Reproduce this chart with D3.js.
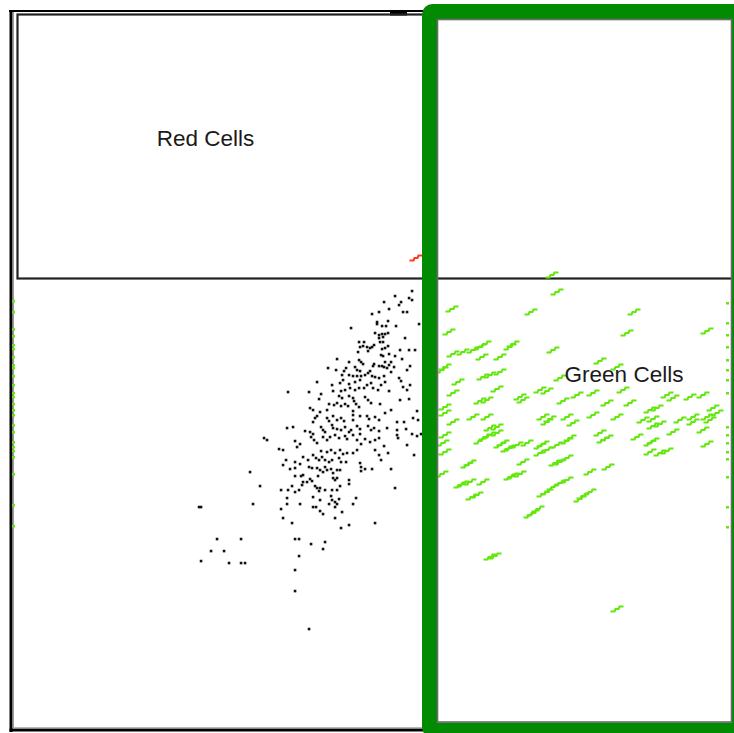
<!DOCTYPE html>
<html>
<head>
<meta charset="utf-8">
<script src="https://cdn.jsdelivr.net/npm/d3@7"></script>
<style>
  html, body { margin: 0; padding: 0; background: #fff; overflow: hidden; }
  svg { display: block; }
</style>
</head>
<body>
<svg id="chart" width="734" height="733"></svg>
<script>
// Event channels (0–720 on both axes): [x channel, y channel]
const blackEvents = [
  [400,438],[383,433],[372,427],[389,427],[387,424],[397,431],[400,429],[377,420],[367,417],[360,415],
  [391,417],[395,417],[376,408],[365,407],[365,405],[370,403],[374,403],[384,403],[407,405],[339,401],
  [363,396],[367,394],[370,395],[373,395],[376,396],[367,391],[371,392],[393,391],[347,387],[352,387],
  [368,387],[371,387],[362,384],[360,382],[351,383],[348,382],[355,382],[376,383],[346,377],[356,378],
  [358,381],[370,380],[373,381],[388,379],[397,379],[403,379],[377,375],[369,374],[371,373],[383,373],
  [390,370],[325,370],[337,367],[347,369],[349,367],[351,365],[362,365],[361,363],[373,367],[379,367],
  [377,364],[367,363],[370,363],[372,362],[375,361],[382,362],[398,363],[316,361],[324,359],[334,361],
  [332,358],[343,362],[345,359],[348,358],[358,358],[379,357],[395,359],[330,354],[337,354],[341,353],
  [345,353],[349,353],[353,354],[356,356],[360,353],[363,352],[367,351],[372,353],[387,351],
  [305,347],[276,337],[297,337],[309,335],[307,330],[320,344],[321,338],[328,346],[331,349],[337,345],
  [343,347],[348,349],[329,338],[333,339],[338,341],[343,339],[347,341],[352,341],[355,344],[359,346],
  [361,341],[366,339],[369,344],[373,347],[377,338],[389,348],[391,342],[395,339],[398,344],[327,333],
  [330,331],[337,333],[341,331],[342,328],[317,325],[322,324],[325,326],[329,323],[333,325],[336,323],
  [344,325],[347,322],[353,332],[356,329],[359,326],[368,325],[379,319],[388,329],[397,330],[405,318],
  [298,321],[301,319],[308,317],[315,319],[305,313],[303,311],[301,307],[315,311],[317,308],[321,313],
  [325,309],[329,311],[332,308],[341,318],[341,314],[341,309],[348,313],[355,313],[357,310],[363,312],
  [367,309],[373,316],[385,307],[392,307],[401,311],[406,309],[275,301],[281,302],[293,298],[298,297],
  [301,295],[309,302],[311,299],[313,297],[320,304],[321,301],[325,300],[329,299],[333,302],[337,297],
  [339,299],[345,303],[348,300],[348,295],[356,303],[359,299],[362,301],[367,298],[375,301],[385,299],
  [385,294],[394,300],[400,295],[405,293],[409,295],[252,291],[255,289],[283,288],[288,285],[285,282],
  [299,292],[302,289],[305,286],[311,292],[315,289],[318,292],[323,294],[327,291],[333,293],[335,290],
  [341,294],[345,289],[349,285],[353,290],[358,287],[363,289],[367,291],[372,283],[386,291],[395,284],
  [267,280],[271,279],[291,272],[296,269],[274,269],[283,267],[271,264],[278,260],[283,261],[301,274],
  [304,271],[307,269],[310,272],[313,269],[317,267],[320,269],[309,278],[315,277],[319,279],[323,276],
  [327,271],[329,267],[334,267],[328,279],[331,275],[335,276],[341,276],[345,279],[348,266],[349,262],
  [349,258],[353,260],[360,260],[363,279],[367,274],[369,269],[376,276],[379,260],[402,274],[297,262],
  [300,261],[305,261],[308,259],[311,257],[313,262],[315,259],[319,260],[321,256],[325,259],[328,259],
  [283,253],[289,253],[298,250],[300,248],[295,247],[306,253],[321,251],[323,249],[325,251],[337,249],
  [337,245],[248,243],[280,243],[290,244],[291,247],[303,243],[305,241],[308,241],[307,238],[313,239],
  [320,239],[325,239],[328,243],[269,239],[276,239],[283,237],[287,239],[275,231],[301,232],[308,229],
  [319,233],[320,229],[323,227],[327,230],[325,225],[323,222],[317,225],[344,231],[383,241],[341,225],
  [269,220],[275,225],[288,225],[301,222],[304,222],[308,218],[311,215],[330,217],[323,211],[271,211],
  [280,206],[329,201],[337,204],[363,206],[238,257],[241,225],[187,222],[189,222],[205,190],[229,190],
  [283,190],[287,190],[199,178],[212,178],[189,168],[217,166],[229,166],[233,166],[299,185],[313,187],
  [311,180],[287,173],[283,159],[283,138],[297,100],[288,265],[291,254]
];

const greenEvents = [
  [545,437],[440,420],[519,417],[622,417],[437,397],[615,396],[695,398],[473,385],[468,382],[461,379],
  [451,377],[441,375],[501,385],[498,382],[541,379],[470,372],[488,372],[433,362],[430,359],[588,368],
  [605,362],[478,354],[488,357],[471,352],[548,351],[446,347],[485,340],[441,336],[528,339],[535,338],
  [581,336],[565,334],[611,339],[508,332],[475,329],[468,328],[551,328],[595,326],[618,326],[655,334],
  [661,331],[678,332],[691,334],[433,322],[433,316],[511,329],[638,319],[645,321],[701,321],[705,316],
  [461,312],[475,312],[441,307],[531,312],[538,310],[555,312],[581,314],[605,312],[485,302],[631,309],
  [641,310],[668,309],[681,312],[695,312],[535,307],[561,306],[648,305],[641,303],[681,307],[698,309],
  [478,301],[485,296],[478,294],[473,292],[433,294],[468,288],[431,286],[491,286],[488,284],[505,284],
  [515,286],[498,281],[495,280],[531,285],[528,283],[545,284],[535,279],[528,276],[558,291],[555,288],
  [588,296],[595,291],[591,289],[625,292],[638,286],[641,288],[661,297],[691,299],[695,285],[433,277],
  [638,277],[655,278],[648,276],[458,266],[455,264],[511,267],[548,267],[555,271],[543,266],[430,255],
  [578,257],[596,262],[501,253],[498,252],[508,255],[458,247],[451,245],[448,244],[471,247],[555,249],
  [548,246],[541,242],[535,237],[531,235],[578,237],[571,233],[568,230],[465,234],[460,232],[526,220],
  [521,216],[518,214],[483,173],[478,172],[605,120],[540,454]
];

const redEvents = [[404, 471]];

// green events piled up on the axis limits (y channel only)
const greenAtMinX = [428,417,400,393,384,380,372,364,361,353,344,336,332,325,319,314,304,297,287,282,278,272,255,224,203];
const greenAtMaxX = [426,406,394,382,369,359,349,336,302,294,286,277,270,252,222,202];

// gate limits in channel units
const redGate = { x0: 5.5, x1: 740, y0: 450.5, y1: 714.5 };
const greenGate = { x0: 425.5, x1: 719.5, y0: 7, y1: 709.5 };

const gateLabels = [
  { text: "Red Cells", x: 193.5, y: 583 },
  { text: "Green Cells", x: 612, y: 347 }
];

const svg = d3.select("#chart");
const x = d3.scaleLinear().domain([0, 720]).range([12, 732]);
const y = d3.scaleLinear().domain([0, 720]).range([729, 9]);

svg.append("rect").attr("width", 734).attr("height", 733).attr("fill", "#fff");

// plot frame
const frame = svg.append("g");
frame.append("line").attr("x1", 9).attr("x2", 740).attr("y1", 11).attr("y2", 11)
  .attr("stroke", "#000").attr("stroke-width", 2);
frame.append("rect").attr("x", 9.5).attr("y", 10).attr("width", 3).attr("height", 722).attr("fill", "#000");
frame.append("line").attr("x1", 13.5).attr("x2", 13.5).attr("y1", 12).attr("y2", 728)
  .attr("stroke", "#9a9a9a").attr("stroke-width", 1);
frame.append("rect").attr("x", 9.5).attr("y", 728.5).attr("width", 730).attr("height", 3).attr("fill", "#000");
frame.append("line").attr("x1", 13).attr("x2", 740).attr("y1", 727.8).attr("y2", 727.8)
  .attr("stroke", "#9a9a9a").attr("stroke-width", 1);
frame.append("rect").attr("x", 390).attr("y", 10).attr("width", 17).attr("height", 5.5).attr("fill", "#000");

// Red Cells gate
svg.append("rect")
  .attr("x", x(redGate.x0)).attr("y", y(redGate.y1))
  .attr("width", x(redGate.x1) - x(redGate.x0))
  .attr("height", y(redGate.y0) - y(redGate.y1))
  .attr("fill", "none").attr("stroke", "#222").attr("stroke-width", 2.2);

// ungated events
svg.append("g").selectAll("rect").data(blackEvents).join("rect")
  .attr("x", d => x(d[0]) - 1.25).attr("y", d => y(d[1]) - 1.25)
  .attr("width", 2.6).attr("height", 2.6).attr("fill", "#111");

// small stair-step marker used for coloured events
const stepMark = {
  draw(ctx) {
    ctx.moveTo(-6.5, 2.5); ctx.lineTo(-2.5, 2.5); ctx.lineTo(-1.5, 0);
    ctx.lineTo(1.5, 0); ctx.lineTo(2.5, -2.5); ctx.lineTo(6.5, -2.5);
  }
};
const markPath = d3.symbol().type(stepMark)();

svg.append("g").selectAll("path").data(greenEvents).join("path")
  .attr("d", markPath)
  .attr("transform", d => `translate(${x(d[0])},${y(d[1])})`)
  .attr("fill", "none").attr("stroke", "#62e80c").attr("stroke-width", 2.1);

svg.append("g").selectAll("path").data(redEvents).join("path")
  .attr("d", markPath)
  .attr("transform", d => `translate(${x(d[0])},${y(d[1])})`)
  .attr("fill", "none").attr("stroke", "#ff3c1e").attr("stroke-width", 2.1);

// events on the axis limits
svg.append("g").selectAll("rect").data(greenAtMinX).join("rect")
  .attr("x", x(0)).attr("y", d => y(d) - 1).attr("width", 3).attr("height", 2.5).attr("fill", "#62e80c");
svg.append("g").selectAll("rect").data(greenAtMaxX).join("rect")
  .attr("x", x(714)).attr("y", d => y(d) - 1).attr("width", 3).attr("height", 2.5).attr("fill", "#62e80c");

// highlighted Green Cells region
const gx0 = x(greenGate.x0), gx1 = x(greenGate.x1), gy0 = y(greenGate.y1), gy1 = y(greenGate.y0);
svg.append("rect")
  .attr("x", gx0 - 8).attr("y", gy0 - 8)
  .attr("width", gx1 - gx0 + 16).attr("height", gy1 - gy0 + 16)
  .attr("rx", 3)
  .attr("fill", "none").attr("stroke", "#028a02").attr("stroke-width", 15);
svg.append("rect")
  .attr("x", gx0).attr("y", gy0)
  .attr("width", gx1 - gx0).attr("height", gy1 - gy0)
  .attr("fill", "none").attr("stroke", "#6a6a6a").attr("stroke-width", 1.6);

// gate labels
svg.append("g").selectAll("text").data(gateLabels).join("text")
  .attr("x", d => x(d.x)).attr("y", d => y(d.y))
  .attr("text-anchor", "middle")
  .attr("font-family", "'Liberation Sans', Arial, sans-serif")
  .attr("font-size", 22.5)
  .attr("fill", "#1a1a1a")
  .text(d => d.text);
</script>
</body>
</html>
